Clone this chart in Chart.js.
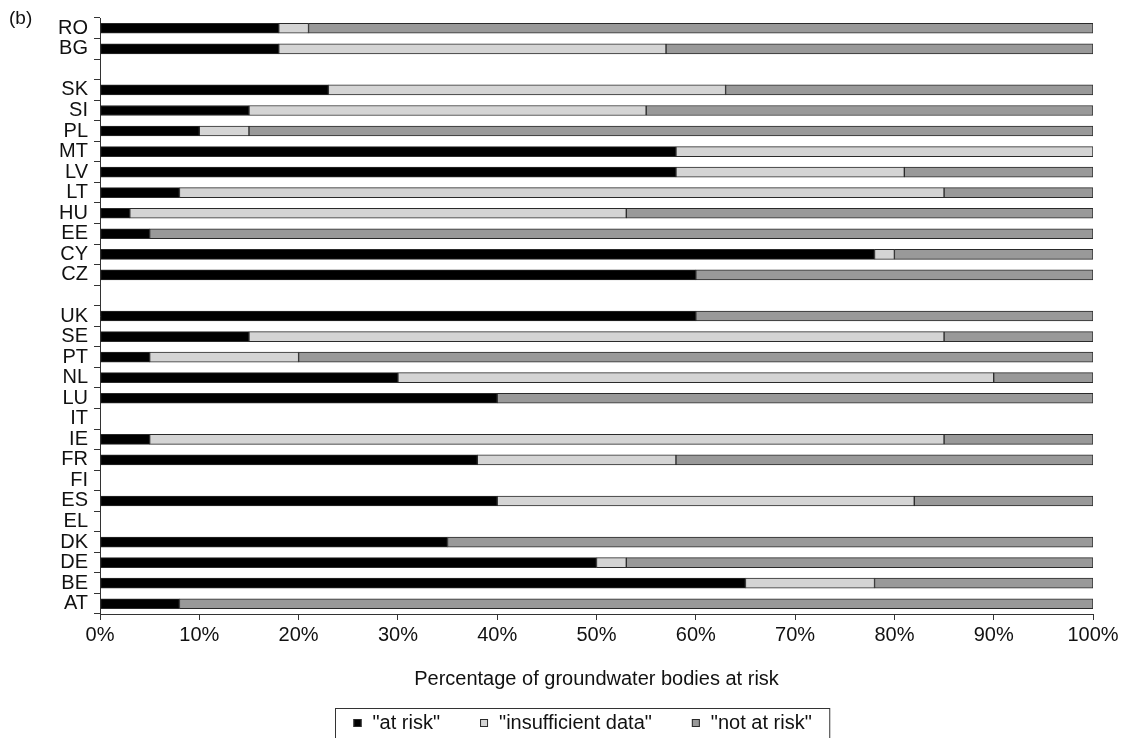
<!DOCTYPE html>
<html>
<head>
<meta charset="utf-8">
<script src="https://cdn.jsdelivr.net/npm/chart.js@4"></script>
<style>
  body { margin: 0; background: #fff; }
  #wrap { position: relative; width: 1126px; height: 738px; }
  #panel { position: absolute; left: 9px; top: 7px; font: 19px "Liberation Sans", Arial, sans-serif; color: #111; }
</style>
</head>
<body>
<div id="wrap">
  <canvas id="riskChart" width="1126" height="738"></canvas>
  <div id="panel">(b)</div>
</div>
<script>
// rows top to bottom, '' = spacer row between country groups
const countries = ['RO', 'BG', '', 'SK', 'SI', 'PL', 'MT', 'LV', 'LT', 'HU', 'EE', 'CY', 'CZ', '',
    'UK', 'SE', 'PT', 'NL', 'LU', 'IT', 'IE', 'FR', 'FI', 'ES', 'EL', 'DK', 'DE', 'BE', 'AT'];
const atRisk = [18, 18, null, 23, 15, 10, 58, 58, 8, 3, 5, 78, 60, null,
    60, 15, 5, 30, 40, null, 5, 38, null, 40, null, 35, 50, 65, 8];
const insufficientData = [3, 39, null, 40, 40, 5, 42, 23, 77, 50, 0, 2, 0, null,
    0, 70, 15, 60, 0, null, 80, 20, null, 42, null, 0, 3, 13, 0];
const notAtRisk = [79, 43, null, 37, 45, 85, 0, 19, 15, 47, 95, 20, 40, null,
    40, 15, 80, 10, 60, null, 15, 42, null, 18, null, 65, 47, 22, 92];
const xTicks = [0, 10, 20, 30, 40, 50, 60, 70, 80, 90, 100];

const FONT = '"Liberation Sans", Arial, sans-serif';
const INK = '#111';
const EDGE = '#2a2a2a';

// legend drawn in a box under the axis title, like the original
const boxedLegend = {
    id: 'boxedLegend',
    afterDraw(chart) {
        const ctx = chart.ctx;
        const sets = chart.data.datasets;
        ctx.save();
        ctx.font = '20px ' + FONT;
        const sq = 8, gapSq = 11, gapItem = 40, pad = 18;
        const widths = sets.map(ds => ctx.measureText(ds.label).width);
        const content = widths.reduce((s, w) => s + sq + gapSq + w, 0) + gapItem * (sets.length - 1);
        const boxW = content + 2 * pad;
        const cx = (chart.chartArea.left + chart.chartArea.right) / 2 - 14;
        const left = Math.round(cx - boxW / 2) + 0.5;
        const top = 708.5;
        ctx.strokeStyle = '#333';
        ctx.lineWidth = 1;
        ctx.strokeRect(left, top, boxW, 40);
        const midY = 723;
        let x = left + pad;
        sets.forEach((ds, i) => {
            ctx.fillStyle = ds.backgroundColor;
            ctx.fillRect(x, midY - 4, sq, sq);
            ctx.strokeStyle = EDGE;
            ctx.strokeRect(x + 0.5, midY - 4 + 0.5, sq - 1, sq - 1);
            x += sq + gapSq;
            ctx.fillStyle = INK;
            ctx.textBaseline = 'middle';
            ctx.textAlign = 'left';
            ctx.fillText(ds.label, x, midY);
            x += widths[i] + gapItem;
        });
        ctx.restore();
    }
};

function bars(label, data, color) {
    return {
        label: label,
        data: data,
        backgroundColor: color,
        borderColor: EDGE,
        borderWidth: 1,
        borderSkipped: false,
        barThickness: 10
    };
}

new Chart(document.getElementById('riskChart'), {
    type: 'bar',
    data: {
        labels: countries,
        datasets: [
            bars('"at risk"', atRisk, '#000000'),
            bars('"insufficient data"', insufficientData, '#d4d4d4'),
            bars('"not at risk"', notAtRisk, '#999999')
        ]
    },
    plugins: [boxedLegend],
    options: {
        indexAxis: 'y',
        responsive: false,
        animation: false,
        layout: { padding: { top: 13, right: 33, bottom: 36, left: 0 } },
        plugins: {
            legend: { display: false },
            tooltip: { enabled: false }
        },
        scales: {
            x: {
                stacked: true,
                min: 0,
                max: 100,
                afterBuildTicks: axis => { axis.ticks = xTicks.map(v => ({ value: v })); },
                afterFit: axis => { axis.height = 88; },
                ticks: {
                    callback: v => v + '%',
                    font: { family: FONT, size: 20 },
                    color: INK,
                    padding: 3,
                    maxRotation: 0
                },
                grid: { drawOnChartArea: false, tickLength: 6, color: '#333' },
                border: { color: '#333', width: 1 },
                title: {
                    display: true,
                    text: 'Percentage of groundwater bodies at risk',
                    font: { family: FONT, size: 20 },
                    color: INK,
                    padding: { top: 0, bottom: 11 }
                }
            },
            y: {
                stacked: true,
                afterFit: axis => { axis.width = 100; },
                ticks: {
                    autoSkip: false,
                    font: { family: FONT, size: 20 },
                    color: INK,
                    padding: 6
                },
                grid: { offset: true, drawOnChartArea: false, tickLength: 6, color: '#333' },
                border: { color: '#333', width: 1 }
            }
        }
    }
});
</script>
</body>
</html>
